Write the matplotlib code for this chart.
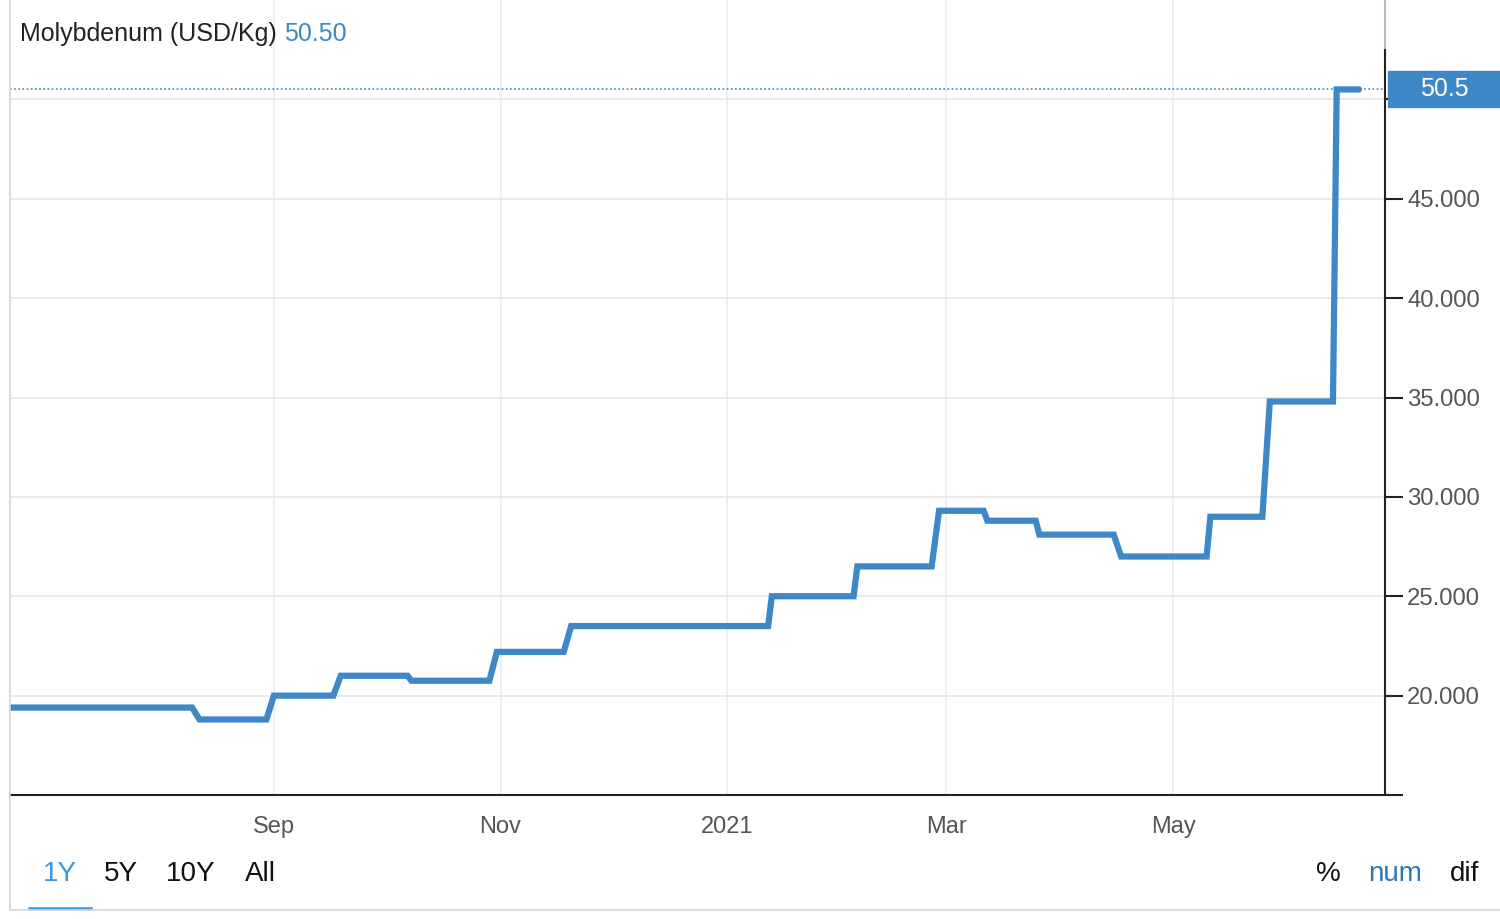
import numpy as np
import pandas as pd
import matplotlib
matplotlib.use("Agg")
from matplotlib import pyplot as plt
from matplotlib import transforms
from matplotlib.patches import Rectangle
from matplotlib.lines import Line2D

# price steps (start/end date of each level)
dates = ["2020-06-22", "2020-08-10", "2020-08-12", "2020-08-30",
         "2020-09-01", "2020-09-17", "2020-09-19", "2020-10-07",
         "2020-10-08", "2020-10-29", "2020-10-31", "2020-11-18",
         "2020-11-20", "2021-01-12", "2021-01-13", "2021-02-04",
         "2021-02-05", "2021-02-25", "2021-02-27", "2021-03-11",
         "2021-03-12", "2021-03-25", "2021-03-26", "2021-04-15",
         "2021-04-17", "2021-05-10", "2021-05-11", "2021-05-25",
         "2021-05-27", "2021-06-13", "2021-06-14", "2021-06-20"]
prices = [19.4, 19.4, 18.8, 18.8, 20.0, 20.0, 21.0, 21.0,
          20.75, 20.75, 22.2, 22.2, 23.5, 23.5, 25.0, 25.0,
          26.5, 26.5, 29.3, 29.3, 28.8, 28.8, 28.1, 28.1,
          27.0, 27.0, 29.0, 29.0, 34.8, 34.8, 50.5, 50.5]

month_ticks = ["2020-09-01", "2020-11-01", "2021-01-01", "2021-03-01", "2021-05-01"]
month_labels = ["Sep", "Nov", "2021", "Mar", "May"]
y_ticks = [15, 20, 25, 30, 35, 40, 45, 50]
y_labels = ["", "20.000", "25.000", "30.000", "35.000", "40.000", "45.000", ""]
last_value = 50.5
ranges = ["1Y", "5Y", "10Y", "All"]
modes = ["%", "num", "dif"]

blue = "#3f88c8"
plt.rcParams['font.family'] = ['Liberation Sans', 'DejaVu Sans']

W, H = 1500, 919
fig = plt.figure(figsize=(W / 100, H / 100), dpi=100)
ax = fig.add_axes([10 / W, 1 - 795 / H, 1375 / W, 795 / H])

x = pd.to_datetime(dates)
ax.plot(x, prices, color=blue, lw=4.5, solid_joinstyle="miter",
        solid_capstyle="round", zorder=3)

ax.set_xlim(pd.Timestamp("2020-06-22"), pd.Timestamp("2021-06-27"))
ax.set_ylim(15, 55)

ax.set_xticks(pd.to_datetime(month_ticks))
ax.set_xticklabels(month_labels)
ax.yaxis.tick_right()
ax.set_yticks(y_ticks)
ax.set_yticklabels(y_labels)

ax.tick_params(axis="x", length=0, pad=15, labelsize=17, labelcolor="#555555")
ax.tick_params(axis="y", length=13, width=1.5, color="#222222", pad=3,
               labelsize=17.2, labelcolor="#555555")

ax.grid(axis="y", color="#e6e6e6", lw=1.2)
ax.grid(axis="x", color="#e6eef2", lw=1.2)
ax.set_axisbelow(True)

for s in ["top", "left"]:
    ax.spines[s].set_visible(False)
ax.spines["bottom"].set_color("#222222")
ax.spines["bottom"].set_linewidth(1.5)
ax.spines["right"].set_color("#222222")
ax.spines["right"].set_linewidth(1.5)
ax.spines["right"].set_bounds(15, 52.5)
ax.plot([1, 1], [52.5, 55], transform=transforms.blended_transform_factory(
    ax.transAxes, ax.transData), color="#bbbbbb", lw=1.5, clip_on=False)

# last value line and label
ax.plot([0, 1], [last_value, last_value], color=blue, lw=1.2,
        ls=(0, (1, 1.5)), transform=transforms.blended_transform_factory(
            ax.transAxes, ax.transData), clip_on=False, zorder=2)
bt = transforms.blended_transform_factory(fig.transFigure, ax.transData)
box_h = 36 / 19.875
fig.patches.append(Rectangle((1388 / W, last_value - box_h / 2), 112 / W, box_h,
                             transform=bt, color=blue, zorder=5))
fig.text(1444 / W, last_value, "50.5", transform=bt, color="white",
         fontsize=18, ha="center", va="center", zorder=6)

# header
fig.text(20 / W, 1 - 34 / H, "Molybdenum (USD/Kg)", fontsize=18,
         color="#222222", va="center")
fig.text(284 / W, 1 - 34 / H, "50.50", fontsize=18, color="#3a8ac8",
         va="center")

# range / mode buttons
for lab, xp in zip(ranges, [60, 121, 191, 260]):
    fig.text(xp / W, 1 - 874 / H, lab, fontsize=20, ha="center", va="center",
             color="#3d95dc" if lab == "1Y" else "#111111")
fig.add_artist(Line2D([29 / W, 91 / W], [1 - 908 / H, 1 - 908 / H],
                      color="#3d95dc", lw=1.8))
for lab, xp in zip(modes, [1328, 1395, 1465]):
    fig.text(xp / W, 1 - 874 / H, lab, fontsize=20, ha="center", va="center",
             color="#2a78b8" if lab == "num" else "#111111")

# widget frame
fig.add_artist(Line2D([10 / W, 10 / W], [1, 1 - 910 / H], color="#d4d4d4", lw=1.2))
fig.add_artist(Line2D([10 / W, 1], [1 - 910 / H, 1 - 910 / H], color="#d4d4d4", lw=1.2))

fig.savefig("out.png", dpi=100)
